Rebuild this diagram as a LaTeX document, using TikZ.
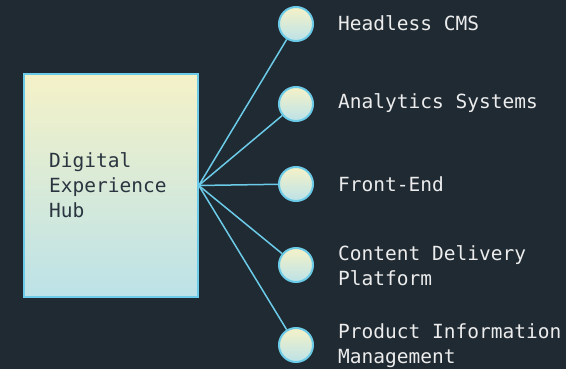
\documentclass[tikz,border=0pt]{standalone}
\usepackage{fontspec}
\setmonofont{DejaVu Sans Mono}
\definecolor{bg}{HTML}{1F2A33}
\definecolor{edge}{HTML}{6CCBE8}
\definecolor{topc}{HTML}{F5F2C8}
\definecolor{botc}{HTML}{BCE2E8}
\definecolor{darktxt}{HTML}{2A3540}
\definecolor{lighttxt}{HTML}{ECECEC}
\begin{document}
\begin{tikzpicture}[x=1pt,y=-1pt,
  hubbox/.style={draw=edge,line width=1.5pt,top color=topc,bottom color=botc,minimum width=174pt,minimum height=223pt,inner sep=0pt},
  leaf/.style={circle,draw=edge,line width=2pt,top color=topc,bottom color=botc,minimum size=34pt,inner sep=0pt},
  conn/.style={draw=edge,line width=1.5pt},
  lbl/.style={anchor=west,text=lighttxt,font=\ttfamily\fontsize{19.5}{25}\selectfont,align=left,inner sep=0pt},
  hubtxt/.style={anchor=west,text=darktxt,font=\ttfamily\fontsize{19.5}{25}\selectfont,align=left,inner sep=0pt}]
\fill[bg] (0,0) rectangle (566,369);
\useasboundingbox (0,0) rectangle (566,369);
\node[hubbox] (hub) at (111,185.5) {};
\node[hubtxt] (hubt) at (49,185) {Digital\\Experience\\Hub};
\node[leaf] (c1) at (296,24) {};
\node[leaf] (c2) at (296,104) {};
\node[leaf] (c3) at (296,184) {};
\node[leaf] (c4) at (296,265) {};
\node[leaf] (c5) at (296,345) {};
\foreach \i in {1,...,5} \draw[conn] (hub.east) -- (c\i);
\node[lbl] (l1) at (338,23) {Headless CMS};
\node[lbl] (l2) at (338,103) {Analytics Systems};
\node[lbl] (l3) at (338,184) {Front-End};
\node[lbl] (l4) at (338,266) {Content Delivery\\Platform};
\node[lbl] (l5) at (338,346) {Product Information\\Management};
\end{tikzpicture}
\end{document}
